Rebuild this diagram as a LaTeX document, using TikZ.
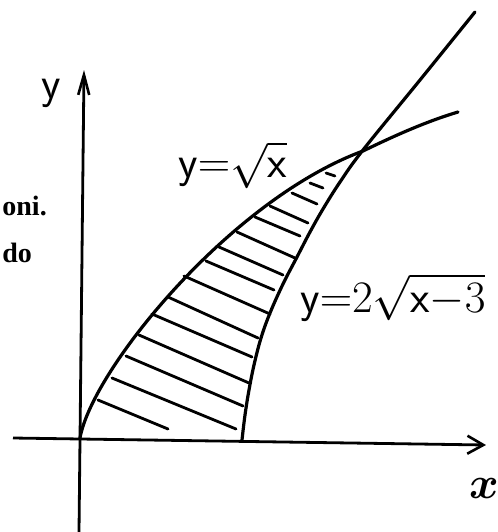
\RequirePackage{fix-cm}
\documentclass[tikz,border=0pt]{standalone}
\usepackage{fontspec}
\usepackage{bm}
\newfontfamily\bookfont{Liberation Serif}
\usetikzlibrary{arrows.meta}
\tikzset{
  axis/.style={line width=1.4pt},
  yarr/.style={-{Straight Barb[length=10pt, width=5.5pt, line width=1.3pt]}},
  xarr/.style={-{Straight Barb[length=8pt, width=9pt, line width=1.3pt]}},
  curve/.style={line width=1.6pt, line cap=round},
  hatch/.style={line width=1.4pt, line cap=round},
  lbl/.style={inner sep=0pt, font=\fontsize{22.5}{27}\selectfont},
  book/.style={inner sep=0pt, font=\bookfont\bfseries\fontsize{14}{16}\selectfont},
}
\begin{document}
\begin{tikzpicture}[x=0.5pt, y=-0.5pt]
  \useasboundingbox (0,0) rectangle (498,532);
  \clip (0,0) rectangle (498,532);

  % ── axes ──────────────────────────────────────────────────────────────────
  \coordinate (ybot) at (79,532);
  \coordinate (ytop) at (84,70);
  \coordinate (xleft) at (13,438);
  \coordinate (xright) at (486,445);
  \draw[axis, yarr] (ybot) -- (ytop);
  \draw[axis, xarr] (xleft) -- (xright);

  % ── curves ────────────────────────────────────────────────────────────────
  \coordinate (O)   at (80,438);
  \coordinate (P)   at (363,151);
  \coordinate (A)   at (458,112);
  \coordinate (B)   at (242,440);
  \coordinate (C)   at (475,12);
  \draw[curve] (O) .. controls (92,370) and (230,200) .. (P)
                   .. controls (398,134) and (428,121) .. (A);
  \draw[curve] plot[smooth, tension=0.6] coordinates {
    (242,440) (245,415) (249,390) (254,365) (261,338) (270,313) (283,284)
    (297,257) (310,232) (323,209) (340,182) (363,150) (420,80) (475,12)};

  % hatching between the curves
  \foreach \a/\b in {
    {(98,400)}/{(168,429)}, {(112,378)}/{(236,429)}, {(126,356)}/{(243,406)},
    {(139,335)}/{(249,383)}, {(152,314)}/{(252,357)}, {(168,297)}/{(258,338)},
    {(184,276)}/{(270,314)}, {(206,261)}/{(274,290)}, {(219,247)}/{(283,275)},
    {(237,232)}/{(295,258)}, {(255,217)}/{(300,236)}, {(270,206)}/{(308,223)},
    {(292,193)}/{(317,204)}, {(310,183)}/{(323,188)}, {(326,173)}/{(335,176)}}
    \draw[hatch] \a -- \b;

  % ── labels ────────────────────────────────────────────────────────────────
  \node[lbl] (ylab) at (51,93) {\textsf{y}};
  \node[lbl] (xlab) at (484,488) {$\bm{x}$};
  \node[lbl, anchor=base west] (lblsqrt) at (178,177)
    {$\mathsf{y}{=}\sqrt{\mathsf{x}}$};
  \node[lbl, anchor=base west] (lblshift) at (300,312)
    {$\mathsf{y}{=}2\sqrt{\mathsf{x}{-}3}$};

  % fragments of the page text (left side)
  \node[book, anchor=base west] (txtoni) at (2,215) {oni.};
  \node[book, anchor=base west] (txtdo)  at (2,262) {do};

\end{tikzpicture}
\end{document}
